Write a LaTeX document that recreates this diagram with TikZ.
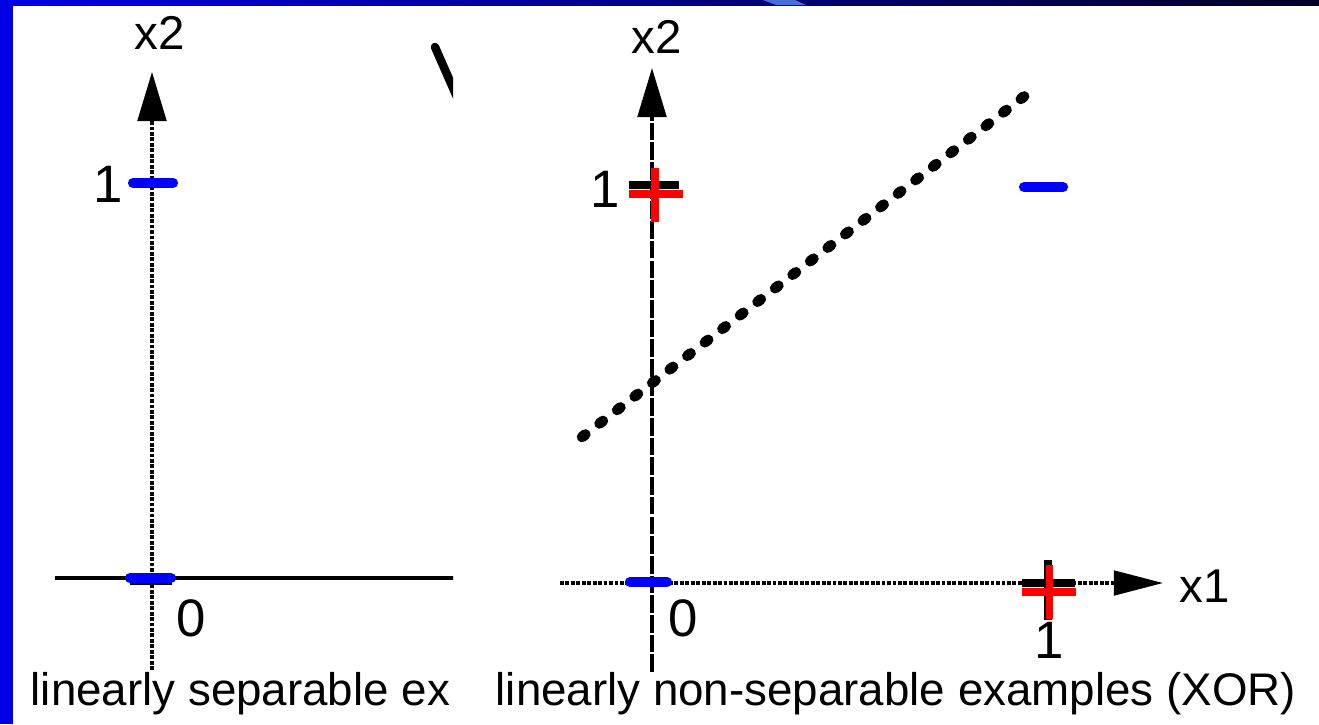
\documentclass[tikz,border=0pt]{standalone}
\usepackage{fontspec}
\setmainfont{Liberation Sans}
\usetikzlibrary{positioning,arrows.meta}

\definecolor{slideblue}{RGB}{0,0,230}
\definecolor{slidenavy}{RGB}{0,0,40}
\definecolor{streakblue}{RGB}{70,110,220}
\definecolor{negblue}{RGB}{0,0,255}
\definecolor{posred}{RGB}{255,0,0}

\tikzset{
  axislbl/.style={font=\fontsize{13.5}{16}\selectfont, inner sep=0pt},
  ticklbl/.style={font=\fontsize{15}{18}\selectfont, inner sep=0pt},
  caption/.style={font=\fontsize{13}{15}\selectfont, inner sep=0pt, anchor=base west},
  fineaxis/.style={draw=black, line width=0.9pt, dash pattern=on 1.1pt off 0.45pt},
  dashaxis/.style={draw=black, line width=0.9pt, dash pattern=on 5pt off 0.6pt},
  negmark/.style={draw=negblue, line width=2.9pt, line cap=round},
  posmark/.style={draw=posred, line width=2pt},
  tickmark/.style={draw=black, line width=2.2pt},
  separator/.style={draw=black, line width=3pt, line cap=round, dash pattern=on 1.2pt off 5.1pt},
  uptip/.style={-{Triangle[width=8.2pt,length=14pt]}},
  righttip/.style={-{Triangle[width=7pt,length=14pt]}}
}

\begin{document}
\begin{tikzpicture}[x=0.01cm, y=-0.01cm]
  \useasboundingbox (0,0) rectangle (1319,724);
  % slide background
  \fill[white] (0,0) rectangle (1319,724);
  \fill[slideblue] (0,0) rectangle (13,724);
  \shade[left color=slideblue, right color=slidenavy] (0,0) rectangle (1319,5);
  \fill[streakblue] (763,0) -- (795,0) -- (806,5) -- (776,5) -- cycle;

  % ---- left panel (cut off at the right) ----
  \begin{scope}
    \clip (13,5) rectangle (453,724);
    \coordinate (l-top) at (152,72);
    \coordinate (l-bot) at (152,670);
    \coordinate (l-west) at (55,578);
    \coordinate (l-east) at (460,578);
    \coordinate (l-arc-a) at (435,47);
    \coordinate (l-arc-b) at (460,104);

	\draw[draw=black, line width=0.9pt] (l-west) -- (l-east);
	\draw[fineaxis, uptip] (l-bot) -- (l-top);
	\draw[draw=black, line width=2.4pt, line cap=round] (l-arc-a) -- (l-arc-b);

	\draw[tickmark] (130,581) -- (172,581);
	\draw[negmark] (133,183) -- (173,183);
	\draw[negmark] (130,578) -- (171,578);

	\node[axislbl] (l-x2) at (160,33) {x2};
	\node[ticklbl] (l-one) at (108,184) {1};
	\node[ticklbl] (l-zero) at (191,618) {0};
	\node[caption] (l-cap) at (30,705) {linearly separable ex};
  \end{scope}

  % ---- right panel (XOR) ----
  \coordinate (r-top) at (652,68);
  \coordinate (r-bot) at (652,672);
  \coordinate (r-west) at (560,583);
  \coordinate (r-east) at (1163,583);
  \coordinate (sep-a) at (582,437);
  \coordinate (sep-b) at (1035,88);

	\draw[dashaxis, uptip] (r-bot) -- (r-top);
	\draw[fineaxis, righttip] (r-west) -- (r-east);
	\draw[separator] (sep-a) -- (sep-b);

	% ticks under the examples
	\draw[tickmark] (629,185) -- (679,185);
	\draw[tickmark] (1022,583) -- (1075,583);
	\draw[tickmark] (1048,560) -- (1048,620);

	% negative examples
	\draw[negmark] (630,582) -- (667,582);
	\draw[negmark] (1024,187) -- (1063,187);

	% positive examples
	\draw[posmark] (629,194) -- (683,194);
	\draw[posmark] (655,168) -- (655,222);
	\draw[posmark] (1022,592) -- (1076,592);
	\draw[posmark] (1049,565) -- (1049,619);

	\node[axislbl] (r-x2) at (657,37) {x2};
	\node[axislbl, right=4.5pt of r-east, yshift=-1pt] (r-x1) {x1};
	\node[ticklbl] (r-one) at (605,189) {1};
	\node[ticklbl] (r-zero) at (683,618) {0};
	\node[ticklbl] (r-one-b) at (1049,640) {1};
	\node[caption] (r-cap) at (495,705) {linearly non-separable examples (XOR)};
\end{tikzpicture}
\end{document}
